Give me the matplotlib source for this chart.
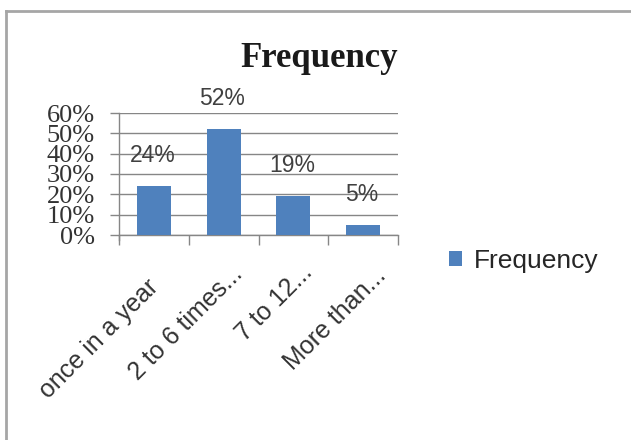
import numpy as np
import matplotlib.pyplot as plt
from matplotlib.lines import Line2D

# Datos del grafico
categorias = ['once in a year', '2 to 6 times...', '7 to 12...', 'More than...']
frecuencia = [0.24, 0.52, 0.19, 0.05]
etiquetas = ['24%', '52%', '19%', '5%']
marcas_y = [0, 0.1, 0.2, 0.3, 0.4, 0.5, 0.6]

azul = '#4F81BD'
gris = '#868686'

fig = plt.figure(figsize=(6.31, 4.40), dpi=100)
ax = fig.add_axes([119 / 631, 1 - 235 / 440, 279 / 631, 122 / 440])

x = np.arange(len(categorias))
barras = ax.bar(x, frecuencia, width=0.49, color=azul, zorder=3)

# etiquetas de valor sobre cada barra
for xi, v, txt in zip(x, frecuencia, etiquetas):
    ax.annotate(txt, (xi, v), xytext=(-1, 22), textcoords='offset points',
                ha='center', va='center', fontsize=16.5, color='#404040',
                family='Liberation Sans', zorder=4)

ax.set_xlim(-0.5, len(categorias) - 0.5)
ax.set_ylim(0, 0.6)
ax.set_yticks(marcas_y)
ax.set_yticklabels(['%d%%' % round(m * 100) for m in marcas_y],
                   family='Liberation Serif', fontsize=19, color='#333333')
ax.yaxis.grid(True, color=gris, linewidth=1, zorder=0)

# categorias rotadas a 45 grados, escritas a mano bajo cada barra
ax.set_xticks(x)
ax.set_xticklabels([])
corrimientos = [(1, 48), (15, 35), (15, 33), (19, 37)]  # pixeles: derecha, abajo
for xi, cat, (dx, dy) in zip(x, categorias, corrimientos):
    ax.annotate(cat, (xi, 0), xytext=(dx * 0.72, -dy * 0.72),
                textcoords='offset points', rotation=45, ha='right',
                va='center', rotation_mode='anchor', family='Liberation Sans',
                fontsize=18, color='#333333', annotation_clip=False)
ax.set_xticks(np.arange(-0.5, len(categorias)), minor=True)
ax.tick_params(axis='x', which='major', length=0)
ax.tick_params(axis='x', which='minor', length=7, color=gris, width=1)
ax.tick_params(axis='y', length=6.5, color=gris, width=1, pad=11)

for lado in ['top', 'right']:
    ax.spines[lado].set_visible(False)
for lado in ['left', 'bottom']:
    ax.spines[lado].set_color(gris)
    ax.spines[lado].set_linewidth(1)
ax.spines['left'].set_bounds(-0.025, 0.6)

fig.text(319.5 / 631, 1 - 67 / 440, 'Frequency', ha='center', va='baseline',
         family='Liberation Serif', fontweight='bold', fontsize=25,
         color='#1a1a1a')

fig.legend([barras], ['Frequency'], loc='center left',
           bbox_to_anchor=(449 / 631, 1 - 261 / 440), frameon=False,
           handlelength=0.5, handleheight=0.5, handletextpad=0.45,
           borderpad=0, borderaxespad=0,
           prop={'family': 'Liberation Sans', 'size': 19})
for t in fig.legends[0].get_texts():
    t.set_color('#262626')

# marco del grafico
fig.add_artist(Line2D([6 / 631, 6 / 631], [0, 1 - 11 / 440],
                      transform=fig.transFigure, color='#a6a6a6', linewidth=2))
fig.add_artist(Line2D([6 / 631, 1], [1 - 11 / 440, 1 - 11 / 440],
                      transform=fig.transFigure, color='#a6a6a6', linewidth=2))

fig.savefig('out.png', dpi=100)
